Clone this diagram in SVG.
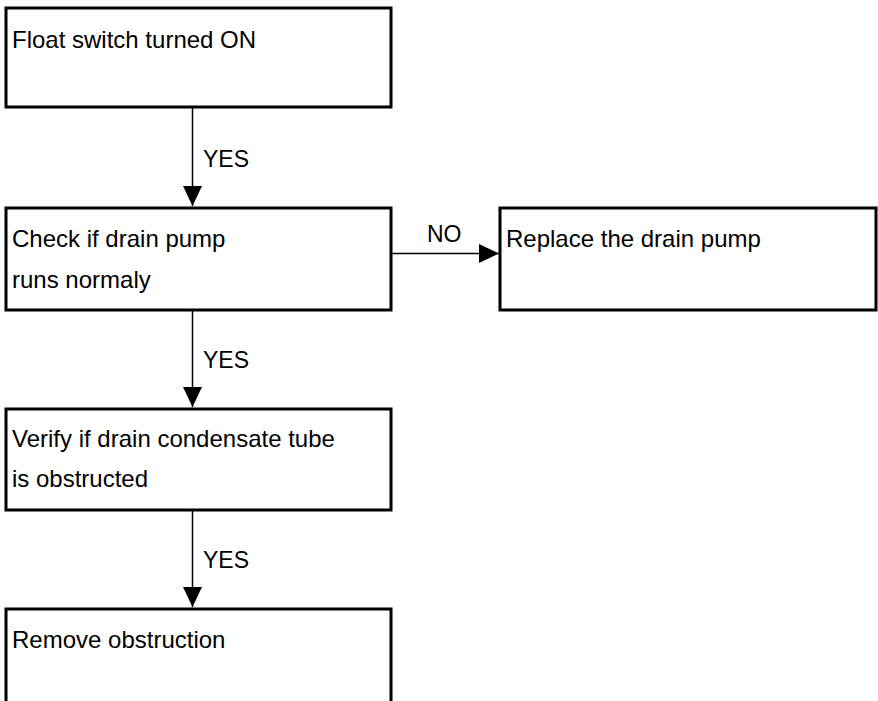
<svg xmlns="http://www.w3.org/2000/svg" width="878" height="701" viewBox="0 0 878 701">
  <style>
    .box { fill: #ffffff; stroke: #000000; stroke-width: 3; }
    .txt { font-family: "Liberation Sans", Arial, sans-serif; font-size: 24px; fill: #000000; }
    .lbl { font-family: "Liberation Sans", Arial, sans-serif; font-size: 23px; fill: #000000; }
    .edge { stroke: #000000; stroke-width: 1.5; fill: none; }
  </style>
  <defs>
    <marker id="arrow" viewBox="0 0 10 10" refX="10" refY="5" markerUnits="userSpaceOnUse" markerWidth="20" markerHeight="19" orient="auto" preserveAspectRatio="none">
      <path d="M0,0 L10,5 L0,10 Z" fill="#000000"/>
    </marker>
  </defs>
  <rect width="878" height="701" fill="#ffffff"/>

  <g id="node-float">
    <rect class="box" x="6" y="8" width="385" height="99"/>
    <text class="txt" x="12" y="48">Float switch turned ON</text>
  </g>

  <g id="node-check">
    <rect class="box" x="6" y="208" width="385" height="102"/>
    <text class="txt" x="12" y="247">Check if drain pump</text>
    <text class="txt" x="12" y="288">runs normaly</text>
  </g>

  <g id="node-replace">
    <rect class="box" x="500" y="208" width="376" height="102"/>
    <text class="txt" x="506" y="247">Replace the drain pump</text>
  </g>

  <g id="node-verify">
    <rect class="box" x="6" y="409" width="385" height="101"/>
    <text class="txt" x="12" y="447">Verify if drain condensate tube</text>
    <text class="txt" x="12" y="487">is obstructed</text>
  </g>

  <g id="node-remove">
    <rect class="box" x="6" y="609" width="385" height="110"/>
    <text class="txt" x="12" y="648">Remove obstruction</text>
  </g>

  <g id="connectors">
    <line class="edge" x1="192.5" y1="108" x2="192.5" y2="206" marker-end="url(#arrow)"/>
    <text class="lbl" x="203" y="167">YES</text>
    <line class="edge" x1="192.5" y1="311" x2="192.5" y2="407" marker-end="url(#arrow)"/>
    <text class="lbl" x="203" y="368">YES</text>
    <line class="edge" x1="392" y1="253.5" x2="499" y2="253.5" marker-end="url(#arrow)"/>
    <text class="lbl" x="427" y="242">NO</text>
    <line class="edge" x1="192.5" y1="511" x2="192.5" y2="607" marker-end="url(#arrow)"/>
    <text class="lbl" x="203" y="568">YES</text>
  </g>
</svg>
